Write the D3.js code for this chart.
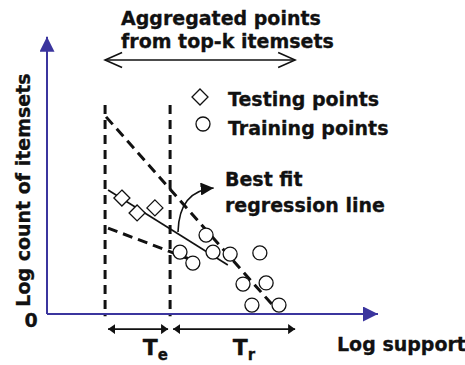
<!DOCTYPE html>
<html>
<head>
<meta charset="utf-8">
<script src="https://cdn.jsdelivr.net/npm/d3@7"></script>
<style>
  body { margin: 0; background: #fff; }
  text { font-family: "DejaVu Sans", Verdana, sans-serif; font-weight: bold; fill: #111; stroke: #111; stroke-width: 0.3; }
</style>
</head>
<body>
<div class="chart"></div>
<script>
// log support (x) / log count (y), arbitrary units 0..10
const testingPoints = [
  { x: 2.27, y: 4.14 },
  { x: 2.73, y: 3.61 },
  { x: 3.27, y: 3.79 }
];
const trainingPoints = [
  { x: 4.82, y: 2.82 },
  { x: 4.03, y: 2.21 },
  { x: 4.42, y: 1.82 },
  { x: 5.03, y: 2.21 },
  { x: 5.55, y: 2.14 },
  { x: 6.45, y: 2.18 },
  { x: 5.94, y: 1.07 },
  { x: 6.64, y: 1.11 },
  { x: 6.21, y: 0.32 },
  { x: 7.03, y: 0.32 }
];
const boundaries = [1.76, 3.73];   // start of Te, start of Tr
const boundaryTop = 7.46;
const trEnd = 7.58;
const upperBound = [{ x: 1.79, y: 7.04 }, { x: 6.97, y: 0.14 }];
const lowerBound = [{ x: 1.85, y: 3.07 }, { x: 4.55, y: 1.86 }];
const regression = [{ x: 1.85, y: 4.43 }, { x: 5.48, y: 1.75 }];
const topArrow = { x0: 1.76, x1: 7.52, y: 9.07 };

const width = 465;
const height = 365;
const axisColor = "#3b359e";

const x = d3.scaleLinear().domain([0, 10]).range([47, 377]);
const y = d3.scaleLinear().domain([0, 10]).range([314, 34]);

const svg = d3
  .select(".chart")
  .append("svg")
  .attr("width", width)
  .attr("height", height);

const defs = svg.append("defs");
function marker(id, color, w, h) {
  defs.append("marker")
    .attr("id", id)
    .attr("viewBox", `0 ${-h} ${w} ${2 * h}`)
    .attr("refX", w)
    .attr("refY", 0)
    .attr("markerUnits", "userSpaceOnUse")
    .attr("markerWidth", w)
    .attr("markerHeight", 2 * h)
    .attr("orient", "auto-start-reverse")
    .append("path")
    .attr("d", `M0,${-h}L${w},0L0,${h}Z`)
    .attr("fill", color);
}
marker("axisHead", axisColor, 15, 7.5);
marker("smallHead", "#111", 7, 5);
marker("curveHead", "#111", 13, 6.5);

// open chevron for the top arrow
defs.append("marker")
  .attr("id", "openHead")
  .attr("viewBox", "-1 -9 20 18")
  .attr("refX", 17)
  .attr("refY", 0)
  .attr("markerUnits", "userSpaceOnUse")
  .attr("markerWidth", 20)
  .attr("markerHeight", 18)
  .attr("orient", "auto-start-reverse")
  .append("path")
  .attr("d", "M0,-7.5L17,0L0,7.5")
  .attr("fill", "none")
  .attr("stroke", "#111")
  .attr("stroke-width", 1.6);

// axes
svg.append("line")
  .attr("x1", x(0)).attr("y1", y(0))
  .attr("x2", x(0)).attr("y2", y(9.9))
  .attr("stroke", axisColor).attr("stroke-width", 2)
  .attr("marker-end", "url(#axisHead)");
svg.append("line")
  .attr("x1", x(0)).attr("y1", y(0))
  .attr("x2", x(10.03)).attr("y2", y(0))
  .attr("stroke", axisColor).attr("stroke-width", 2)
  .attr("marker-end", "url(#axisHead)");

// dashed boundaries
svg.selectAll("line.boundary")
  .data(boundaries)
  .enter()
  .append("line")
  .attr("class", "boundary")
  .attr("x1", (d) => x(d)).attr("x2", (d) => x(d))
  .attr("y1", y(boundaryTop)).attr("y2", y(-0.08))
  .attr("stroke", "#111").attr("stroke-width", 3)
  .attr("stroke-dasharray", "9,6");

const line = d3.line().x((d) => x(d.x)).y((d) => y(d.y));

svg.append("path")
  .datum(upperBound)
  .attr("d", line)
  .attr("fill", "none").attr("stroke", "#111").attr("stroke-width", 3)
  .attr("stroke-dasharray", "10,6");
svg.append("path")
  .datum(lowerBound)
  .attr("d", line)
  .attr("fill", "none").attr("stroke", "#111").attr("stroke-width", 3)
  .attr("stroke-dasharray", "10,6");
svg.append("path")
  .datum(regression)
  .attr("d", line)
  .attr("fill", "none").attr("stroke", "#111").attr("stroke-width", 1.6);

// points
const diamond = (cx, cy, r) => `M${cx},${cy - r}L${cx + r},${cy}L${cx},${cy + r}L${cx - r},${cy}Z`;
svg.selectAll("path.testing")
  .data(testingPoints)
  .enter()
  .append("path")
  .attr("class", "testing")
  .attr("d", (d) => diamond(x(d.x), y(d.y), 8))
  .attr("fill", "#fff").attr("stroke", "#111").attr("stroke-width", 1.3);

svg.selectAll("circle.training")
  .data(trainingPoints)
  .enter()
  .append("circle")
  .attr("class", "training")
  .attr("cx", (d) => x(d.x))
  .attr("cy", (d) => y(d.y))
  .attr("r", 7)
  .attr("fill", "#fff").attr("stroke", "#111").attr("stroke-width", 1.3);

// legend
svg.append("path")
  .attr("d", diamond(200, 97, 8))
  .attr("fill", "#fff").attr("stroke", "#111").attr("stroke-width", 1.3);
svg.append("circle")
  .attr("cx", 203).attr("cy", 124).attr("r", 7)
  .attr("fill", "#fff").attr("stroke", "#111").attr("stroke-width", 1.3);
svg.append("text").attr("x", 228).attr("y", 106).attr("font-size", 19).text("Testing points");
svg.append("text").attr("x", 228).attr("y", 135).attr("font-size", 19).text("Training points");

// top annotation
svg.append("text").attr("x", 121).attr("y", 25).attr("font-size", 19).text("Aggregated points");
svg.append("text").attr("x", 121).attr("y", 48).attr("font-size", 19).text("from top-k itemsets");
svg.append("line")
  .attr("x1", x(topArrow.x0)).attr("x2", x(topArrow.x1))
  .attr("y1", y(topArrow.y)).attr("y2", y(topArrow.y))
  .attr("stroke", "#111").attr("stroke-width", 1.6)
  .attr("marker-start", "url(#openHead)")
  .attr("marker-end", "url(#openHead)");

// best fit callout
svg.append("path")
  .attr("d", `M${x(3.97)},${y(2.93)} Q${x(4.0)},${y(4.4)} ${x(5.05)},${y(4.5)}`)
  .attr("fill", "none").attr("stroke", "#111").attr("stroke-width", 1.6)
  .attr("marker-end", "url(#curveHead)");
svg.append("text").attr("x", 225).attr("y", 186).attr("font-size", 19).text("Best fit");
svg.append("text").attr("x", 225).attr("y", 212).attr("font-size", 19).text("regression line");

// Te / Tr arrows
const rangeY = -0.54;
const spans = [
  { x0: boundaries[0], x1: boundaries[1], labelAt: 2.9, label: "T", sub: "e" },
  { x0: boundaries[1], x1: trEnd, labelAt: 5.63, label: "T", sub: "r" }
];
svg.selectAll("line.span")
  .data(spans)
  .enter()
  .append("line")
  .attr("class", "span")
  .attr("x1", (d) => x(d.x0) + 3).attr("x2", (d) => x(d.x1) - 2)
  .attr("y1", y(rangeY)).attr("y2", y(rangeY))
  .attr("stroke", "#111").attr("stroke-width", 1.6)
  .attr("marker-start", "url(#smallHead)")
  .attr("marker-end", "url(#smallHead)");
const spanLabels = svg.selectAll("text.span")
  .data(spans)
  .enter()
  .append("text")
  .attr("class", "span")
  .attr("x", (d) => x(d.labelAt))
  .attr("y", 355)
  .attr("font-size", 22);
spanLabels.append("tspan").text((d) => d.label);
spanLabels.append("tspan").attr("font-size", 15).attr("dy", 5).text((d) => d.sub);

// axis labels
svg.append("text").attr("x", 31).attr("y", 327).attr("text-anchor", "middle").attr("font-size", 19).text("0");
svg.append("text").attr("x", 337).attr("y", 351).attr("font-size", 19).text("Log support");
svg.append("text")
  .attr("transform", "translate(30,190) rotate(-90)")
  .attr("text-anchor", "middle")
  .attr("font-size", 19)
  .text("Log count of itemsets");
</script>
</body>
</html>
